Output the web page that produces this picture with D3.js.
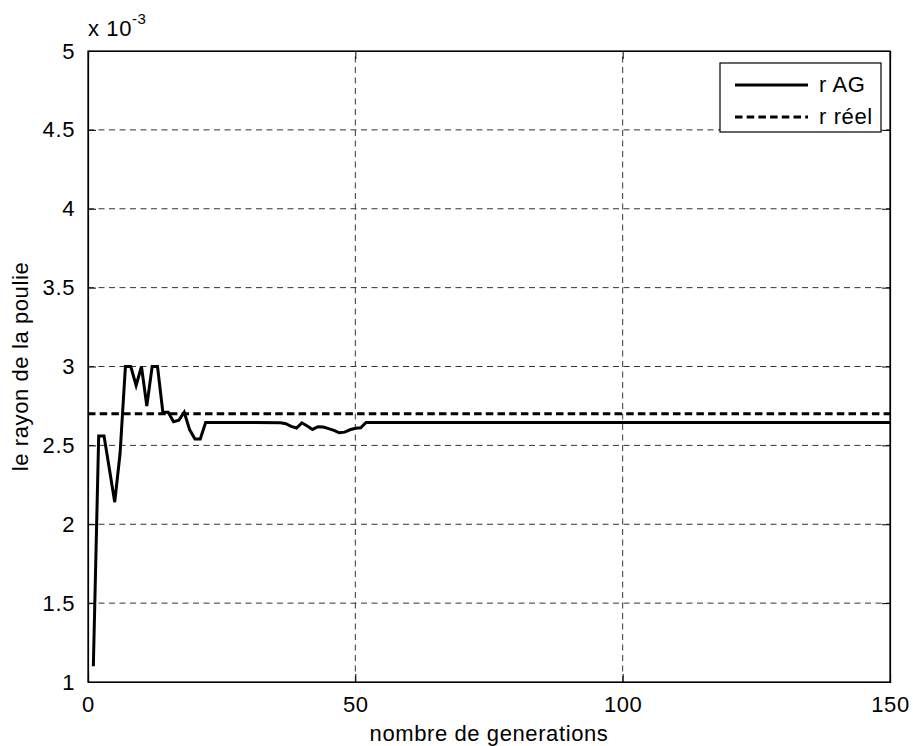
<!DOCTYPE html>
<html>
<head>
<meta charset="utf-8">
<script src="https://cdn.jsdelivr.net/npm/d3@7"></script>
<style>
  html, body { margin: 0; padding: 0; background: #fff; }
  svg text { font-family: "Liberation Sans", Arial, sans-serif; fill: #000; letter-spacing: 0.6px; }
</style>
</head>
<body>
<svg id="chart" width="913" height="746"></svg>
<script>
// ---- data (values in units of 1e-3) ----
const generations = [1,2,3,4,5,6,7,8,9,10,11,12,13,14,15,16,17,18,19,20,21,22,
  36,37,38,39,40,41,42,43,44,45,46,47,48,49,50,51,52,150];
const rAG = [1.10,2.56,2.56,2.35,2.14,2.45,3.00,3.00,2.88,3.00,2.75,3.00,3.00,2.71,2.71,2.65,2.66,2.71,2.60,2.54,2.54,2.645,
  2.644,2.637,2.620,2.610,2.643,2.623,2.601,2.618,2.616,2.606,2.595,2.580,2.584,2.599,2.608,2.612,2.645,2.645];
const rReelGen = [0, 150];
const rReel = [2.70, 2.70];
const xTicks = [0, 50, 100, 150];
const yTicks = [1, 1.5, 2, 2.5, 3, 3.5, 4, 4.5, 5];
const legendLabels = ["r AG", "r réel"];
const xLabel = "nombre de generations";
const yLabel = "le rayon de la poulie";

// ---- layout ----
const svg = d3.select("#chart");
const L = 88, R = 890, T = 51, B = 682;
const x = d3.scaleLinear().domain([0, 150]).range([L, R]);
const y = d3.scaleLinear().domain([1, 5]).range([B, T]);
const FS = 22;

// grid
const grid = svg.append("g").attr("stroke", "#333").attr("stroke-width", 1)
  .attr("stroke-dasharray", "6,4.5").attr("fill", "none");
xTicks.filter(d => d > 0 && d < 150).forEach(d => {
  grid.append("line").attr("x1", x(d)).attr("x2", x(d)).attr("y1", B).attr("y2", T);
});
yTicks.filter(d => d > 1 && d < 5).forEach(d => {
  grid.append("line").attr("x1", L).attr("x2", R).attr("y1", y(d)).attr("y2", y(d));
});

// axes with inward ticks
const tl = 8;
const axB = svg.append("g").attr("transform", `translate(0,${B})`)
  .call(d3.axisBottom(x).tickValues(xTicks).tickSize(-tl).tickPadding(tl + 6).tickFormat(d3.format("d")));
const axT = svg.append("g").attr("transform", `translate(0,${T})`)
  .call(d3.axisTop(x).tickValues(xTicks).tickSize(-tl).tickFormat(""));
const axL = svg.append("g").attr("transform", `translate(${L},0)`)
  .call(d3.axisLeft(y).tickValues(yTicks).tickSize(-tl).tickPadding(tl + 5).tickFormat(d => d3.format("")(d)));
const axR = svg.append("g").attr("transform", `translate(${R},0)`)
  .call(d3.axisRight(y).tickValues(yTicks).tickSize(-tl).tickFormat(""));
[axB, axT, axL, axR].forEach(a => {
  a.select(".domain").attr("stroke", "#000").attr("stroke-width", 1.2);
  a.selectAll(".tick line").attr("stroke", "#000").attr("stroke-width", 1);
  a.selectAll("text").attr("font-size", FS).attr("font-family", "Liberation Sans, Arial, sans-serif").attr("fill", "#000");
});
axB.selectAll("text").attr("dy", null).attr("y", 30);

// frame
svg.append("rect").attr("x", L).attr("y", T).attr("width", R - L).attr("height", B - T)
  .attr("fill", "none").attr("stroke", "#000").attr("stroke-width", 1.2);

// lines
const line = d3.line().x(d => x(d[0])).y(d => y(d[1]));
svg.append("path").datum(generations.map((g, i) => [g, rAG[i]]))
  .attr("d", line).attr("fill", "none").attr("stroke", "#000").attr("stroke-width", 3)
  .attr("stroke-linejoin", "miter");
svg.append("path").datum(rReelGen.map((g, i) => [g, rReel[i]]))
  .attr("d", line).attr("fill", "none").attr("stroke", "#000").attr("stroke-width", 3)
  .attr("stroke-dasharray", "7.5,4.2");

// exponent label
const ex = svg.append("text").attr("x", L).attr("y", 36).attr("font-size", FS);
ex.append("tspan").text("x 10");
ex.append("tspan").attr("font-size", 15).attr("dy", -12).text("-3");

// axis labels
svg.append("text").attr("x", (L + R) / 2).attr("y", 741).attr("text-anchor", "middle")
  .attr("font-size", FS).text(xLabel);
svg.append("text").attr("transform", `translate(28,${(T + B) / 2}) rotate(-90)`)
  .attr("text-anchor", "middle").attr("font-size", FS).text(yLabel);

// legend
const lg = svg.append("g");
lg.append("rect").attr("x", 720).attr("y", 63).attr("width", 161).attr("height", 69)
  .attr("fill", "#fff").attr("stroke", "#000").attr("stroke-width", 1.2);
const dashes = [null, "7.5,4.2"];
legendLabels.forEach((lab, i) => {
  const yy = 85 + i * 32;
  lg.append("line").attr("x1", 735).attr("x2", 808).attr("y1", yy).attr("y2", yy)
    .attr("stroke", "#000").attr("stroke-width", 3).attr("stroke-dasharray", dashes[i]);
  lg.append("text").attr("x", 819).attr("y", yy + 7).attr("font-size", FS).text(lab);
});
</script>
</body>
</html>
